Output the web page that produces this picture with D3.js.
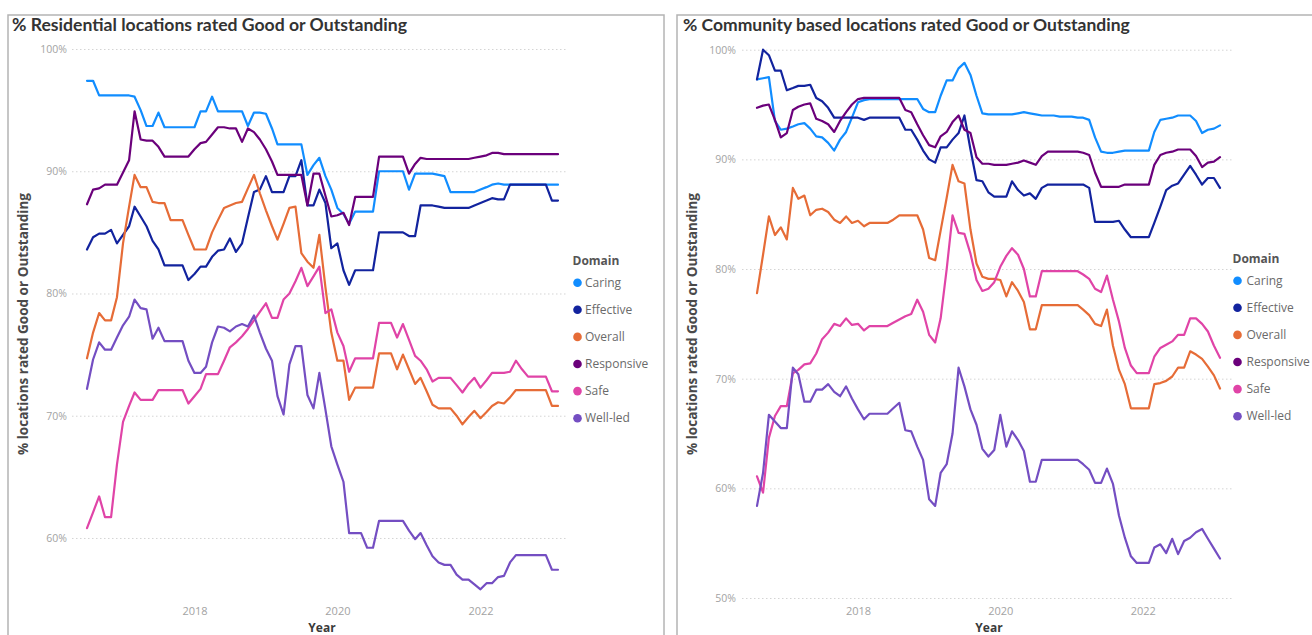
<!DOCTYPE html>
<html>
<head>
<meta charset="utf-8">
<script src="https://cdn.jsdelivr.net/npm/d3@7"></script>
<style>
  body { margin: 0; background: #fff; }
  svg { display: block; font-family: "Open Sans", "Noto Sans", sans-serif; }
</style>
</head>
<body>
<svg id="chart" width="1312" height="635"></svg>
<script>
// ---- Categories -------------------------------------------------------------
const domains = ["Caring", "Effective", "Overall", "Responsive", "Safe", "Well-led"];
const domainColors = ["#118DFF", "#12239E", "#E66C37", "#6B007B", "#E044A7", "#744EC2"];

// Monthly snapshots: residential Jul 2016 - Feb 2023, community Aug 2016 - Feb 2023
const residentialMonths = d3.timeMonth.range(new Date(2016, 6, 1), new Date(2023, 2, 1));
const communityMonths = d3.timeMonth.range(new Date(2016, 7, 1), new Date(2023, 2, 1));

const residentialYTicks = [60, 70, 80, 90, 100];
const communityYTicks = [50, 60, 70, 80, 90, 100];
const yearTicks = [2018, 2020, 2022];

// ---- Residential locations: % rated Good or Outstanding -------------------
const resCaring = [
  97.4,97.4,96.2,96.2,96.2,96.2,96.2,96.2,96.1,95.0,
  93.7,93.7,94.8,93.6,93.6,93.6,93.6,93.6,93.6,94.9,
  94.9,96.1,94.9,94.9,94.9,94.9,94.9,93.7,94.8,94.8,
  94.7,93.5,92.2,92.2,92.2,92.2,92.2,89.7,90.5,91.1,
  89.6,88.5,87.0,86.5,85.7,86.7,86.7,86.7,86.7,90.0,
  90.0,90.0,90.0,90.0,88.5,89.8,89.8,89.8,89.8,89.7,
  89.6,88.3,88.3,88.3,88.3,88.3,88.5,88.7,88.9,89.0,
  88.9,88.9,88.9,88.9,88.9,88.9,88.9,88.9,88.9,88.9
];
const resEffective = [
  83.6,84.6,84.9,84.9,85.2,84.1,84.8,85.5,87.1,86.3,
  85.5,84.3,83.6,82.3,82.3,82.3,82.3,81.1,81.6,82.2,
  82.2,83.0,83.5,83.6,84.5,83.4,84.1,86.2,88.3,88.5,
  89.6,88.3,88.3,88.3,89.6,89.6,90.9,87.2,87.2,88.5,
  87.4,83.7,84.1,81.9,80.7,81.9,81.9,81.9,81.9,85.0,
  85.0,85.0,85.0,85.0,84.7,84.7,87.2,87.2,87.2,87.1,
  87.0,87.0,87.0,87.0,87.0,87.2,87.4,87.6,87.8,87.7,
  87.7,88.9,88.9,88.9,88.9,88.9,88.9,88.9,87.6,87.6
];
const resOverall = [
  74.7,76.8,78.4,77.8,77.8,79.7,84.1,87.1,89.7,88.7,
  88.7,87.5,87.4,87.4,86.0,86.0,86.0,84.8,83.6,83.6,
  83.6,85.0,86.0,87.0,87.2,87.4,87.5,88.6,89.7,88.2,
  86.8,85.5,84.4,85.7,87.0,87.1,83.3,82.6,82.1,84.8,
  80.5,76.8,74.5,74.5,71.3,72.3,72.3,72.3,72.3,75.1,
  75.1,75.1,73.8,75.0,73.8,72.6,73.1,72.0,70.9,70.6,
  70.6,70.6,70.0,69.3,69.9,70.4,69.8,70.3,70.8,71.1,
  71.0,71.5,72.1,72.1,72.1,72.1,72.1,72.1,70.8,70.8
];
const resResponsive = [
  87.3,88.5,88.6,88.9,88.9,88.9,89.9,90.9,94.9,92.6,
  92.5,92.5,92.0,91.2,91.2,91.2,91.2,91.2,91.8,92.3,
  92.4,93.0,93.6,93.6,93.5,93.5,92.4,93.5,93.2,92.6,
  91.8,90.8,89.7,89.7,89.7,89.7,89.7,87.2,89.8,89.8,
  88.0,86.3,86.4,86.6,85.6,87.9,87.9,87.9,87.9,91.2,
  91.2,91.2,91.2,91.2,89.8,90.6,91.1,91.0,91.0,91.0,
  91.0,91.0,91.0,91.0,91.0,91.1,91.2,91.3,91.5,91.5,
  91.4,91.4,91.4,91.4,91.4,91.4,91.4,91.4,91.4,91.4
];
const resSafe = [
  60.8,62.1,63.4,61.7,61.7,66.0,69.5,70.8,71.9,71.3,
  71.3,71.3,72.1,72.1,72.1,72.1,72.1,71.0,71.6,72.2,
  73.4,73.4,73.4,74.5,75.6,76.0,76.5,77.1,77.8,78.5,
  79.2,78.0,78.0,79.5,80.0,81.0,82.1,80.6,81.4,82.2,
  78.4,78.7,76.8,75.7,73.6,74.7,74.7,74.7,74.7,77.6,
  77.6,77.6,76.4,77.5,76.2,74.9,74.5,73.8,72.8,73.1,
  73.1,73.1,72.5,71.9,72.6,73.1,72.3,72.9,73.5,73.5,
  73.5,73.6,74.5,73.8,73.2,73.2,73.2,73.2,72.0,72.0
];
const resWellLed = [
  72.2,74.6,76.0,75.4,75.4,76.4,77.4,78.1,79.5,78.8,
  78.7,76.3,77.2,76.1,76.1,76.1,76.1,74.5,73.5,73.5,
  74.0,76.0,77.3,77.2,76.9,77.3,77.5,77.3,78.2,76.8,
  75.5,74.5,71.6,70.1,74.2,75.7,75.7,71.7,70.6,73.5,
  70.5,67.5,66.0,64.6,60.4,60.4,60.4,59.2,59.2,61.4,
  61.4,61.4,61.4,61.4,60.6,59.9,60.4,59.4,58.5,58.0,
  57.8,57.8,57.0,56.6,56.6,56.2,55.8,56.3,56.3,56.8,
  56.9,58.0,58.6,58.6,58.6,58.6,58.6,58.6,57.4,57.4
];

// ---- Community based locations: % rated Good or Outstanding ---------------
const comCaring = [
  97.3,97.4,97.5,93.5,92.7,92.8,93.0,93.2,93.3,92.8,
  92.1,92.0,91.5,90.8,91.8,92.5,93.8,95.2,95.4,95.5,
  95.5,95.5,95.5,95.5,95.5,95.5,95.5,95.5,94.6,94.3,
  94.3,95.8,97.2,97.2,98.3,98.8,97.7,95.8,94.2,94.1,
  94.1,94.1,94.1,94.1,94.2,94.3,94.2,94.1,94.0,94.0,
  94.0,93.9,93.9,93.9,93.8,93.8,93.6,92.0,90.7,90.6,
  90.6,90.7,90.8,90.8,90.8,90.8,90.8,92.5,93.6,93.7,
  93.8,94.0,94.0,94.0,93.5,92.4,92.7,92.8,93.1
];
const comEffective = [
  97.3,100.0,99.5,98.1,98.1,96.3,96.5,96.7,96.7,96.8,
  95.6,95.3,94.7,93.8,93.8,93.8,93.8,93.8,93.6,93.8,
  93.8,93.8,93.8,93.8,93.8,92.7,92.7,91.8,90.8,90.0,
  89.7,91.1,91.1,91.8,92.4,94.0,90.9,88.1,88.0,87.0,
  86.6,86.6,86.6,88.0,87.2,86.7,86.9,86.4,87.4,87.7,
  87.7,87.7,87.7,87.7,87.7,87.7,87.4,84.3,84.3,84.3,
  84.3,84.4,83.6,82.9,82.9,82.9,82.9,84.2,85.7,87.2,
  87.6,87.8,88.6,89.4,88.6,87.7,88.3,88.3,87.4
];
const comOverall = [
  77.8,81.3,84.8,83.1,83.8,82.7,87.4,86.4,86.7,84.9,
  85.4,85.5,85.2,84.5,84.2,84.8,84.2,84.4,83.9,84.2,
  84.2,84.2,84.2,84.5,84.9,84.9,84.9,84.9,83.6,81.0,
  80.8,83.5,86.5,89.5,88.0,87.8,83.6,80.5,79.3,79.1,
  79.1,79.0,77.5,78.8,78.0,77.0,74.5,74.5,76.7,76.7,
  76.7,76.7,76.7,76.7,76.7,76.3,75.8,75.0,74.8,76.3,
  73.0,70.8,69.5,67.3,67.3,67.3,67.3,69.5,69.6,69.8,
  70.2,71.0,71.0,72.5,72.2,71.8,71.1,70.3,69.1
];
const comResponsive = [
  94.7,94.9,95.0,93.6,92.0,92.4,94.5,94.8,95.0,95.1,
  93.7,93.5,93.2,92.5,93.5,94.3,95.0,95.5,95.6,95.6,
  95.6,95.6,95.6,95.6,95.6,94.5,94.3,93.2,92.2,91.3,
  91.1,92.1,92.5,93.4,94.0,92.7,92.4,90.2,89.6,89.6,
  89.5,89.5,89.5,89.6,89.7,89.9,89.7,89.5,90.3,90.7,
  90.7,90.7,90.7,90.7,90.7,90.6,90.4,88.8,87.5,87.5,
  87.5,87.5,87.7,87.7,87.7,87.7,87.7,89.5,90.4,90.6,
  90.7,90.9,90.9,90.9,90.3,89.3,89.7,89.8,90.2
];
const comSafe = [
  61.1,59.6,64.6,66.6,67.5,67.5,70.5,70.8,71.3,71.4,
  72.3,73.6,74.2,75.0,74.8,75.5,74.9,75.0,74.4,74.8,
  74.8,74.8,74.8,75.1,75.4,75.7,75.9,77.2,76.1,74.0,
  73.3,75.5,80.0,84.9,83.3,83.2,81.4,79.0,78.0,78.2,
  78.8,80.2,81.2,81.9,81.3,80.0,77.5,77.5,79.8,79.8,
  79.8,79.8,79.8,79.8,79.8,79.5,79.1,78.2,77.9,79.4,
  77.2,75.2,72.8,71.2,70.5,70.5,70.5,72.0,72.8,73.1,
  73.4,74.0,74.0,75.5,75.5,75.0,74.3,73.0,71.9
];
const comWellLed = [
  58.4,61.4,66.7,66.1,65.5,65.5,71.0,70.4,67.9,67.9,
  69.0,69.0,69.5,68.8,68.4,69.3,68.2,67.2,66.3,66.8,
  66.8,66.8,66.8,67.3,67.8,65.3,65.2,63.8,62.6,59.0,
  58.4,61.4,62.2,65.0,71.0,69.3,67.2,65.8,63.6,62.9,
  63.5,66.7,63.8,65.2,64.4,63.4,60.6,60.6,62.6,62.6,
  62.6,62.6,62.6,62.6,62.6,62.2,61.7,60.5,60.5,61.8,
  60.4,57.5,55.5,53.8,53.2,53.2,53.2,54.6,54.9,54.1,
  55.4,54.0,55.2,55.5,56.0,56.3,55.4,54.5,53.6
];

// ---- Drawing --------------------------------------------------------------
const svg = d3.select("#chart");
svg.append("rect").attr("width", 1312).attr("height", 635).attr("fill", "#fff");

// Scale a text element's font size so that it spans the given width
function fitWidth(sel, width) {
  const len = sel.node().getComputedTextLength();
  const fs = parseFloat(sel.attr("font-size"));
  if (len > 0) sel.attr("font-size", (fs * width / len).toFixed(2));
}

function drawPanel(p) {
  const g = svg.append("g");

  // Visual frame
  g.append("rect")
    .attr("x", p.frameX).attr("y", 15)
    .attr("width", p.frameW).attr("height", 700)
    .attr("fill", "none").attr("stroke", "#b4b4b4").attr("stroke-width", 1.5);

  // Title
  const title = g.append("text")
    .attr("x", p.titleX).attr("y", 31)
    .attr("font-family", "Lato, 'Open Sans', sans-serif")
    .attr("font-size", 16).attr("font-weight", 700)
    .attr("fill", "#333")
    .text(p.title);
  fitWidth(title, p.titleW);

  const x = d3.scaleTime().domain(d3.extent(p.months)).range([p.dataL, p.dataR]);
  const y = d3.scaleLinear().domain([p.yLow, 100]).range([p.yBottom, p.yTop]);

  // Y axis with dotted gridlines
  const yAxis = g.append("g")
    .attr("transform", `translate(${p.gridL},0)`)
    .call(d3.axisLeft(y)
      .tickValues(p.yTicks)
      .tickFormat(d => d + "%")
      .tickSize(-(p.gridR - p.gridL))
      .tickPadding(p.gridL - p.labelR));
  yAxis.select(".domain").remove();
  yAxis.selectAll(".tick line")
    .attr("stroke", "#d4d4d4").attr("stroke-dasharray", "1.5,2.5").attr("stroke-width", 1);
  yAxis.selectAll(".tick text")
    .attr("fill", "#a3a3a3").attr("font-size", 10.5)
    .attr("font-family", "'Open Sans', sans-serif");

  // X axis: year labels
  const xAxis = g.append("g")
    .attr("transform", `translate(0,${p.xAxisY})`)
    .call(d3.axisBottom(x)
      .tickValues(yearTicks.map(yr => new Date(yr, 0, 1)))
      .tickFormat(d3.timeFormat("%Y"))
      .tickSize(0).tickPadding(3));
  xAxis.select(".domain").remove();
  xAxis.selectAll(".tick text")
    .attr("fill", "#a3a3a3").attr("font-size", 11)
    .attr("font-family", "'Open Sans', sans-serif");

  // Axis titles
  g.append("text")
    .attr("x", p.yearX).attr("y", 632)
    .attr("text-anchor", "middle")
    .attr("font-size", 12).attr("font-weight", 700).attr("fill", "#3a3a3a")
    .text("Year");

  const yTitle = g.append("text")
    .attr("transform", `translate(${p.yTitleX},324) rotate(-90)`)
    .attr("text-anchor", "middle")
    .attr("dominant-baseline", "central")
    .attr("font-size", 12.5).attr("font-weight", 700).attr("fill", "#4a4a4a")
    .text("% locations rated Good or Outstanding");
  fitWidth(yTitle, 262);

  // Series lines
  const line = d3.line()
    .x((d, i) => x(p.months[i]))
    .y(d => y(d));
  p.series.forEach((vals, k) => {
    g.append("path")
      .attr("d", line(vals))
      .attr("fill", "none")
      .attr("stroke", domainColors[k])
      .attr("stroke-width", 2.2)
      .attr("stroke-linejoin", "round")
      .attr("stroke-linecap", "round");
  });

  // Legend
  const lg = g.append("g");
  lg.append("text")
    .attr("x", p.legendX - 5).attr("y", p.legendY - 22)
    .attr("dy", "0.35em")
    .attr("font-size", 12).attr("font-weight", 700).attr("fill", "#555")
    .text("Domain");
  const items = lg.selectAll(".item").data(domains).join("g")
    .attr("transform", (d, i) => `translate(${p.legendX},${p.legendY + i * 27.1})`);
  items.append("circle").attr("r", 4.3).attr("fill", (d, i) => domainColors[i]);
  items.append("text")
    .attr("x", p.legendTextDx).attr("dy", "0.35em")
    .attr("font-size", 12).attr("fill", "#6a6a6a")
    .text(d => d);
}

drawPanel({
  title: "% Residential locations rated Good or Outstanding",
  frameX: 8, frameW: 656, titleX: 12, titleW: 395,
  months: residentialMonths,
  series: [resCaring, resEffective, resOverall, resResponsive, resSafe, resWellLed],
  dataL: 87, dataR: 558, gridL: 72, gridR: 568, labelR: 67,
  yLow: 55, yTop: 49, yBottom: 599.1, yTicks: residentialYTicks,
  xAxisY: 604, yearX: 322, yTitleX: 23,
  legendX: 577.5, legendY: 282.7, legendTextDx: 7.5
});

drawPanel({
  title: "% Community based locations rated Good or Outstanding",
  frameX: 677, frameW: 700, titleX: 683, titleW: 447,
  months: communityMonths,
  series: [comCaring, comEffective, comOverall, comResponsive, comSafe, comWellLed],
  dataL: 757, dataR: 1220, gridL: 742, gridR: 1232, labelR: 736,
  yLow: 50, yTop: 49.7, yBottom: 598, yTicks: communityYTicks,
  xAxisY: 604, yearX: 989, yTitleX: 692,
  legendX: 1237.5, legendY: 280.7, legendTextDx: 9
});
</script>
</body>
</html>
